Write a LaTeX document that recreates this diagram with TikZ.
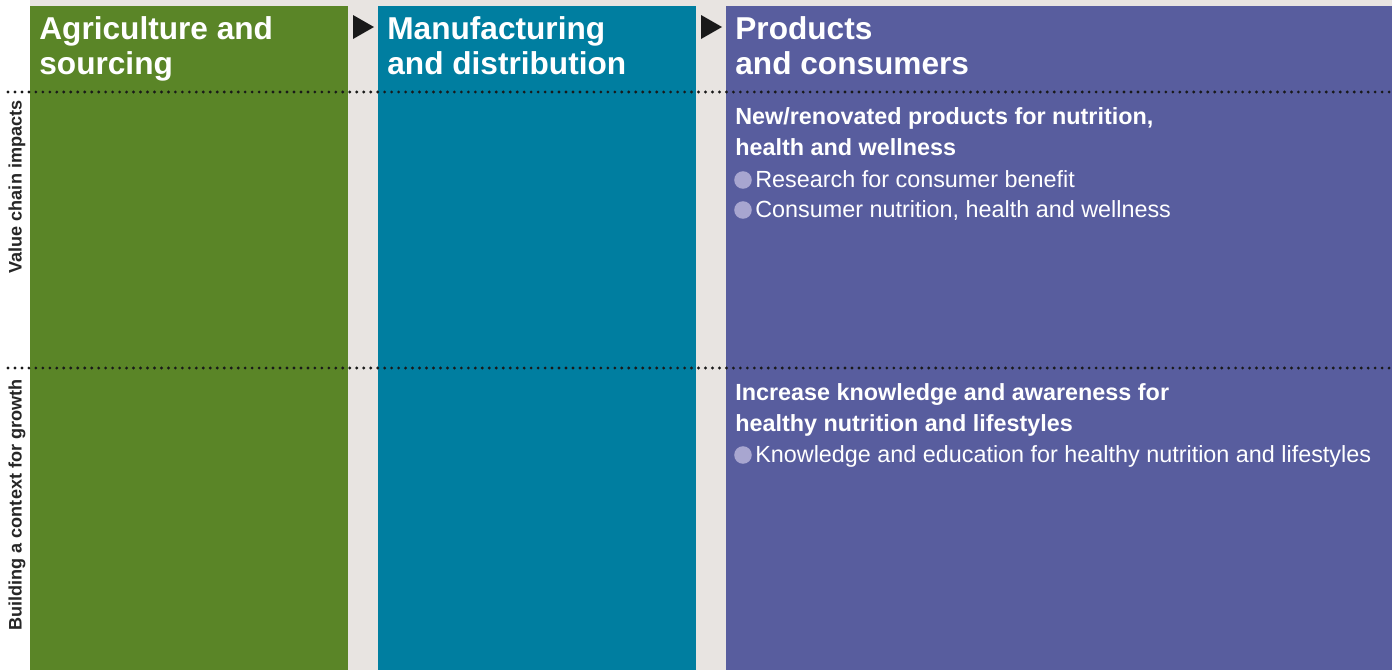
\documentclass[tikz,border=0pt]{standalone}
\usepackage{fontspec}
\setmainfont{Liberation Sans}
\definecolor{agrigreen}{RGB}{90,133,39}
\definecolor{manuteal}{RGB}{0,126,160}
\definecolor{prodpurple}{RGB}{88,93,158}
\definecolor{backgray}{RGB}{232,228,225}
\definecolor{dotlilac}{RGB}{168,166,208}
\begin{document}
\begin{tikzpicture}[x=0.02cm, y=-0.02cm,
  coltitle/.style={anchor=base west, inner sep=0pt, text=white, align=left,
    font=\fontsize{18}{19.85}\selectfont\bfseries},
  sechead/.style={anchor=base west, inner sep=0pt, text=white, align=left,
    font=\fontsize{13.3}{17.6}\selectfont\bfseries},
  secitem/.style={anchor=base west, inner sep=0pt, text=white,
    font=\fontsize{13.3}{17.6}\selectfont},
  bulletdot/.style={circle, fill=dotlilac, minimum size=10pt, inner sep=0pt},
  rowlabel/.style={rotate=90, inner sep=0pt, text=black!85,
    font=\fontsize{10.3}{12}\selectfont\bfseries},
  dotline/.style={line width=1.8pt, line cap=round, dash pattern=on 0pt off 3.97pt, black!90}]
\useasboundingbox (0,0) rectangle (1392,670);
\fill[backgray] (30,0) rectangle (1392,670);

% columns
\fill[agrigreen] (30,6) rectangle (348,670);
\fill[manuteal] (378,6) rectangle (696,670);
\fill[prodpurple] (726,6) rectangle (1392,670);

% arrows between columns
\fill[black!90] (353,15) -- (374,27) -- (353,39) -- cycle;
\fill[black!90] (701,15) -- (722,27) -- (701,39) -- cycle;

% base of a two-line node is its last line
\node[coltitle] (agri) at (39,74) {Agriculture and\\sourcing};
\node[coltitle] (manu) at (387,74) {Manufacturing\\and distribution};
\node[coltitle] (prod) at (735,74) {Products\\and consumers};

% row separators
\draw[dotline] (8,92) -- (1392,92);
\draw[dotline] (8,368) -- (1392,368);

\node[rowlabel] (value) at (17,187) {Value chain impacts};
\node[rowlabel] (growth) at (17,505) {Building a context for growth};

% value chain impacts
\node[sechead] (newprod) at (735,155) {New/renovated products for nutrition,\\health and wellness};
\node[bulletdot] (dota) at (743,180) {};
\node[secitem] (research) at (755,187) {Research for consumer benefit};
\node[bulletdot] (dotb) at (743,210) {};
\node[secitem] (consumer) at (755,217) {Consumer nutrition, health and wellness};

% building a context for growth
\node[sechead] (knowledge) at (735,431) {Increase knowledge and awareness for\\healthy nutrition and lifestyles};
\node[bulletdot] (dotc) at (743,455) {};
\node[secitem] (education) at (755,462) {Knowledge and education for healthy nutrition and lifestyles};
\end{tikzpicture}
\end{document}
